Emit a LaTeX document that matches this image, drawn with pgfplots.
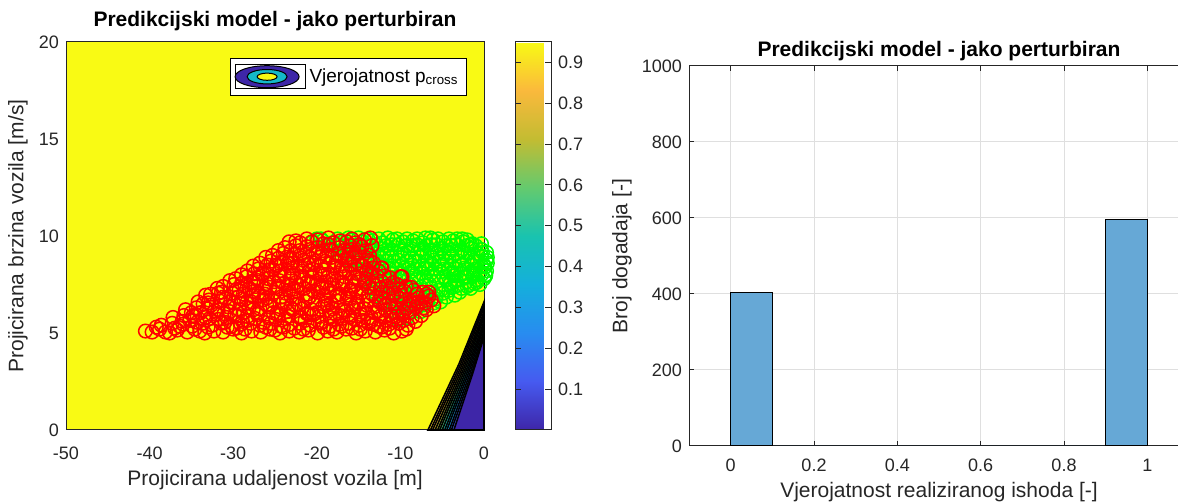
\documentclass[border=0pt]{standalone}
\usepackage{fontspec}
\setmainfont{Liberation Sans}
\usepackage{pgfplots}
\pgfplotsset{compat=1.18}

\definecolor{axgray}{RGB}{38,38,38}
\definecolor{pyellow}{RGB}{249,250,20}
\definecolor{pblue}{RGB}{62,38,168}
\definecolor{pcyan}{RGB}{20,185,200}
\definecolor{barblue}{RGB}{102,168,214}
\definecolor{gridgray}{RGB}{223,223,223}
\definecolor{mgreen}{RGB}{0,255,0}
\definecolor{mred}{RGB}{255,0,0}

\pgfplotsset{
  colormap={parula}{rgb255(0cm)=(62,38,168) rgb255(1cm)=(70,90,240)
    rgb255(2cm)=(40,140,240) rgb255(3cm)=(20,175,220) rgb255(4cm)=(25,195,175)
    rgb255(5cm)=(100,202,110) rgb255(6cm)=(195,188,50) rgb255(7cm)=(250,185,60)
    rgb255(8cm)=(249,250,20)},
  mlab/.style={
    scale only axis,
    axis line style={axgray, line width=0.5pt},
    tick style={axgray, line width=0.5pt},
    ticklabel style={font=\fontsize{9}{10}\selectfont, text=axgray},
    label style={font=\fontsize{10.5}{12}\selectfont, text=axgray},
    title style={font=\bfseries\fontsize{10.5}{12}\selectfont, yshift=-6.5pt},
    /pgf/number format/assume math mode=true,
    /pgf/number format/1000 sep={},
    major tick length=2.5pt,
  },
  cont/.style={draw=black, line width=0.8pt, forget plot},
  dots/.style={only marks, mark=o, mark size=3.4pt, mark options={line width=0.75pt}, forget plot},
}

\begin{document}
\begin{tikzpicture}

% ---------------- left: contour + scatter ----------------
\begin{axis}[mlab,
  at={(33pt,36pt)}, anchor=south west,
  width=209pt, height=194pt,
  xmin=-50, xmax=0, ymin=0, ymax=20,
  xtick={-50,-40,-30,-20,-10,0}, ytick={0,5,10,15,20},
  major tick length=0pt,
  xticklabel style={yshift=-5pt},
  axis background/.style={fill=pyellow},
  clip=false,
  title={Predikcijski model - jako perturbiran},
  title style={at={(0.5,1.057)}, anchor=center},
  xlabel={Projicirana udaljenost vozila [m]},
  ylabel={Projicirana brzina vozila [m/s]},
  xlabel style={at={(axis description cs:0.5,-0.129)}, anchor=center},
  ylabel style={at={(axis description cs:-0.115,0.5)}, anchor=center},
  colorbar, colormap name=parula,
  point meta min=0, point meta max=0.95,
  colorbar style={
    at={(parent axis.north east)}, anchor=north west, xshift=7pt,
    scale only axis, width=18pt, height=194pt,
    axis line style={axgray, line width=0.5pt},
    ytick={0.1,0.2,0.3,0.4,0.5,0.6,0.7,0.8,0.9},
    yticklabel style={font=\fontsize{9}{10}\selectfont, text=axgray},
    /pgf/number format/assume math mode=true,
    tick align=inside, major tick length=3pt,
    tick style={axgray, line width=0.5pt},
  },
  legend style={at={(0.959,0.959)}, anchor=north east, draw=black, fill=white,
    font=\fontsize{9.5}{11}\selectfont, legend cell align=left,
    inner xsep=2pt, inner ysep=3pt},
]

% filled contour bands (level lines, lower-right corner)
\addplot[cont, fill={rgb,255:red,250;green,215;blue,45}]  coordinates {(-6.7,0) (-3.0,3.4) (0,6.6) (0,0)} -- cycle;
\addplot[cont, fill={rgb,255:red,252;green,190;blue,60}]  coordinates {(-6.4,0) (-2.85,3.35) (0,6.45) (0,0)} -- cycle;
\addplot[cont, fill={rgb,255:red,225;green,186;blue,45}]  coordinates {(-6.15,0) (-2.7,3.3) (0,6.3) (0,0)} -- cycle;
\addplot[cont, fill={rgb,255:red,185;green,190;blue,55}]  coordinates {(-5.85,0) (-2.55,3.25) (0,6.1) (0,0)} -- cycle;
\addplot[cont, fill={rgb,255:red,135;green,198;blue,85}]  coordinates {(-5.55,0) (-2.4,3.2) (0,5.95) (0,0)} -- cycle;
\addplot[cont, fill={rgb,255:red,80;green,200;blue,120}]  coordinates {(-5.3,0) (-2.25,3.15) (0,5.8) (0,0)} -- cycle;
\addplot[cont, fill={rgb,255:red,30;green,192;blue,170}]  coordinates {(-5.0,0) (-2.1,3.1) (0,5.6) (0,0)} -- cycle;
\addplot[cont, fill={rgb,255:red,15;green,178;blue,205}]  coordinates {(-4.7,0) (-1.95,3.05) (0,5.45) (0,0)} -- cycle;
\addplot[cont, fill={rgb,255:red,28;green,155;blue,228}]  coordinates {(-4.45,0) (-1.8,3.0) (0,5.3) (0,0)} -- cycle;
\addplot[cont, fill={rgb,255:red,45;green,125;blue,242}]  coordinates {(-4.15,0) (-1.65,2.95) (0,5.1) (0,0)} -- cycle;
\addplot[cont, fill={rgb,255:red,65;green,90;blue,235}]   coordinates {(-3.9,0) (-1.5,2.9) (0,4.95) (0,0)} -- cycle;
\addplot[cont, fill=pblue]                                coordinates {(-3.6,0) (-1.4,2.85) (0,4.8) (0,0)} -- cycle;

% green: crossing cases
\addplot[dots, color=mgreen] coordinates {
(-10.2,5.7) (-9.2,5.8)
(-11.0,6.1) (-9.8,6.05) (-8.6,6.15) (-7.6,6.1)
(-12.0,6.5) (-10.8,6.45) (-9.6,6.55) (-8.4,6.5) (-7.2,6.45) (-6.0,6.55) (-5.2,6.6)
(-12.9,6.9) (-11.7,6.85) (-10.5,6.95) (-9.3,6.9) (-8.1,6.85) (-6.9,6.95) (-5.7,6.9) (-4.5,6.85) (-3.5,6.95)
(-13.5,7.3) (-12.3,7.25) (-11.1,7.35) (-9.9,7.3) (-8.7,7.25) (-7.5,7.35) (-6.3,7.3) (-5.1,7.25) (-3.9,7.35) (-2.7,7.3) (-1.6,7.3)
(-14.1,7.7) (-12.9,7.65) (-11.7,7.75) (-10.5,7.7) (-9.3,7.65) (-8.1,7.75) (-6.9,7.7) (-5.7,7.65) (-4.5,7.75) (-3.3,7.7) (-2.1,7.65) (-0.9,7.75) (0.0,7.8)
(-14.8,8.1) (-13.6,8.05) (-12.4,8.15) (-11.2,8.1) (-10.0,8.05) (-8.8,8.15) (-7.6,8.1) (-6.4,8.05) (-5.2,8.15) (-4.0,8.1) (-2.8,8.05) (-1.6,8.15) (-0.5,8.1) (0.3,8.2)
(-15.8,8.5) (-14.6,8.45) (-13.4,8.55) (-12.2,8.5) (-11.0,8.45) (-9.8,8.55) (-8.6,8.5) (-7.4,8.45) (-6.2,8.55) (-5.0,8.5) (-3.8,8.45) (-2.6,8.55) (-1.4,8.5) (-0.3,8.45) (0.4,8.6)
(-17.0,8.9) (-15.8,8.85) (-14.6,8.95) (-13.4,8.9) (-12.2,8.85) (-11.0,8.95) (-9.8,8.9) (-8.6,8.85) (-7.4,8.95) (-6.2,8.9) (-5.0,8.85) (-3.8,8.95) (-2.6,8.9) (-1.4,8.85) (-0.3,8.95) (0.4,8.9)
(-18.3,9.3) (-17.1,9.25) (-15.9,9.35) (-14.7,9.3) (-13.5,9.25) (-12.3,9.35) (-11.1,9.3) (-9.9,9.25) (-8.7,9.35) (-7.5,9.3) (-6.3,9.25) (-5.1,9.35) (-3.9,9.3) (-2.7,9.25) (-1.5,9.35) (-0.3,9.3)
(-20.5,9.7) (-19.3,9.75) (-18.1,9.65) (-16.9,9.7) (-15.7,9.8) (-14.5,9.7) (-13.3,9.75) (-12.1,9.65) (-10.9,9.8) (-9.7,9.7) (-8.5,9.75) (-7.3,9.65) (-6.1,9.8) (-4.9,9.7) (-3.7,9.75) (-2.5,9.7) (-1.4,9.6)
(-8.0,6.3) (-5.8,6.75) (-2.9,7.1) (-0.5,7.5) (-11.3,7.5) (-8.9,7.5) (-6.5,7.5) (-4.1,7.5) (-1.7,7.5)
(-12.0,7.9) (-9.6,7.9) (-7.2,7.9) (-4.8,7.9) (-2.4,7.9) (0.2,7.95)
(-13.0,8.3) (-10.6,8.3) (-8.2,8.3) (-5.8,8.3) (-3.4,8.3) (-1.0,8.3)
(-14.0,8.7) (-11.6,8.7) (-9.2,8.7) (-6.8,8.7) (-4.4,8.7) (-2.0,8.7) (0.3,8.75)
(-15.2,9.1) (-12.8,9.1) (-10.4,9.1) (-8.0,9.1) (-5.6,9.1) (-3.2,9.1) (-0.8,9.1)
(-16.5,9.5) (-14.1,9.5) (-11.7,9.5) (-9.3,9.5) (-6.9,9.5) (-4.5,9.5) (-2.1,9.5) (-0.3,9.6)
(-17.5,9.85) (-11.5,9.9) (-5.5,9.85)
(-9.4,6.3) (-6.7,6.7) (-4.9,7.05) (-3.2,7.45) (-1.2,7.55) (0.2,8.0)
(-13.0,7.1) (-10.9,7.1) (-8.4,7.05) (-6.1,7.1) (-4.0,7.6) (-2.2,7.85) (-0.3,8.0)
(-13.6,8.35) (-11.4,8.35) (-9.0,8.35) (-6.6,8.3) (-4.3,8.3) (-2.0,8.3) (0.1,8.4)
(-15.0,8.75) (-12.7,8.7) (-10.2,8.75) (-7.8,8.7) (-5.4,8.7) (-3.0,8.7) (-0.8,8.7)
(-16.4,9.15) (-13.9,9.15) (-11.6,9.1) (-9.1,9.15) (-6.8,9.1) (-4.2,9.15) (-1.9,9.1) (0.3,9.15)
(-19.0,9.5) (-17.4,9.55) (-15.0,9.55) (-12.9,9.55) (-10.3,9.55) (-8.0,9.55) (-5.7,9.55) (-3.3,9.55) (-1.0,9.5)
(-20.0,9.85) (-16.2,9.9) (-13.9,9.85) (-9.2,9.85) (-7.0,9.9) (-3.2,9.85) (-2.0,9.8)
(-9.8,6.4) (-7.1,6.85) (-4.2,7.2) (-2.0,7.4) (-0.9,7.6)
(-12.3,7.05) (-10.1,7.2) (-7.9,7.2) (-5.5,7.2) (-3.5,7.65) (-1.3,7.95)
(-13.9,7.9) (-11.0,7.85) (-8.4,7.95) (-6.0,7.95) (-3.6,7.95) (-1.1,8.05)
(-14.2,8.3) (-12.0,8.3) (-9.5,8.35) (-7.0,8.35) (-4.7,8.3) (-2.3,8.35) (0.0,8.5)
(-16.2,8.7) (-13.2,8.75) (-10.8,8.7) (-8.3,8.7) (-6.0,8.75) (-3.6,8.7) (-1.2,8.75)
(-17.4,9.1) (-14.3,9.15) (-12.0,9.1) (-9.6,9.1) (-7.2,9.15) (-4.8,9.1) (-2.3,9.15) (-0.2,9.15)
(-18.6,9.55) (-16.0,9.55) (-13.5,9.5) (-11.0,9.55) (-8.6,9.5) (-6.3,9.55) (-3.9,9.5) (-1.6,9.55)
(-19.5,9.85) (-15.0,9.9) (-12.6,9.85) (-10.4,9.85) (-8.0,9.85) (-6.4,9.9) (-4.2,9.85) (-2.6,9.85)
};

% red: non-crossing cases
\addplot[dots, color=mred] coordinates {
(-40.5,5.1) (-39.7,5.05) (-38.8,5.2) (-37.6,5.0) (-36.7,5.15) (-35.5,5.05) (-34.6,5.2) (-33.4,5.0) (-32.3,5.1) (-31.2,5.05) (-30.0,5.2) (-29.0,5.0) (-27.8,5.1) (-26.7,5.05) (-25.6,5.2) (-24.4,5.0) (-23.3,5.1) (-22.1,5.05) (-21.0,5.15) (-19.9,5.0) (-18.7,5.1) (-17.6,5.05) (-16.5,5.2) (-15.3,5.0) (-14.2,5.1) (-13.0,5.05) (-11.9,5.15) (-10.8,5.0) (-9.8,5.1)
(-38.6,5.4) (-37.3,5.5) (-36.0,5.45) (-34.9,5.35) (-33.7,5.5) (-32.5,5.4) (-31.4,5.5) (-30.2,5.35) (-29.1,5.45) (-27.9,5.5) (-26.8,5.4) (-25.5,5.5) (-24.3,5.35) (-23.2,5.45) (-22.0,5.5) (-20.8,5.4) (-19.6,5.5) (-18.4,5.35) (-17.3,5.45) (-16.1,5.5) (-14.9,5.4) (-13.8,5.5) (-12.6,5.35) (-11.4,5.45) (-10.2,5.5) (-9.1,5.4)
(-37.2,5.8) (-35.9,5.9) (-34.6,5.85) (-33.3,5.8) (-32.0,5.95) (-30.8,5.8) (-29.5,5.9) (-28.3,5.85) (-27.1,5.95) (-25.8,5.8) (-24.6,5.9) (-23.4,5.85) (-22.1,5.8) (-20.9,5.95) (-19.7,5.85) (-18.4,5.8) (-17.2,5.9) (-16.0,5.85) (-14.7,5.95) (-13.5,5.8) (-12.3,5.9) (-11.0,5.85) (-9.8,5.95) (-8.6,5.8) (-7.5,5.9)
(-35.7,6.2) (-34.4,6.3) (-33.1,6.25) (-31.8,6.2) (-30.6,6.35) (-29.3,6.2) (-28.1,6.3) (-26.8,6.25) (-25.6,6.35) (-24.3,6.2) (-23.1,6.3) (-21.8,6.25) (-20.6,6.2) (-19.3,6.35) (-18.1,6.25) (-16.8,6.2) (-15.6,6.3) (-14.3,6.25) (-13.1,6.35) (-11.8,6.2) (-10.6,6.3) (-9.3,6.25) (-8.1,6.35) (-6.9,6.2) (-6.0,6.4)
(-34.2,6.6) (-32.9,6.7) (-31.6,6.65) (-30.3,6.6) (-29.0,6.75) (-27.8,6.6) (-26.5,6.7) (-25.2,6.65) (-24.0,6.6) (-22.7,6.75) (-21.4,6.65) (-20.2,6.6) (-18.9,6.7) (-17.6,6.65) (-16.4,6.75) (-15.1,6.6) (-13.8,6.7) (-12.6,6.65) (-11.3,6.6) (-10.0,6.75) (-8.8,6.65) (-7.5,6.6) (-6.3,6.7)
(-32.7,7.0) (-31.4,7.1) (-30.1,7.05) (-28.8,7.0) (-27.5,7.15) (-26.2,7.0) (-25.0,7.1) (-23.7,7.05) (-22.4,7.15) (-21.1,7.0) (-19.8,7.1) (-18.5,7.05) (-17.2,7.0) (-16.0,7.15) (-14.7,7.05) (-13.4,7.0) (-12.1,7.1) (-10.8,7.05) (-9.5,7.15) (-8.0,7.0) (-6.6,7.1)
(-31.2,7.4) (-29.9,7.5) (-28.6,7.45) (-27.3,7.4) (-26.0,7.55) (-24.7,7.4) (-23.4,7.5) (-22.1,7.45) (-20.8,7.55) (-19.5,7.4) (-18.2,7.5) (-16.9,7.45) (-15.6,7.4) (-14.3,7.55) (-13.0,7.45) (-11.7,7.4) (-10.4,7.5) (-9.3,7.4)
(-29.7,7.8) (-28.4,7.9) (-27.1,7.85) (-25.8,7.8) (-24.5,7.95) (-23.2,7.8) (-21.9,7.9) (-20.6,7.85) (-19.3,7.95) (-18.0,7.8) (-16.7,7.9) (-15.4,7.85) (-14.1,7.8) (-12.8,7.95) (-11.3,7.85)
(-28.3,8.2) (-27.0,8.3) (-25.7,8.25) (-24.4,8.2) (-23.1,8.35) (-21.8,8.2) (-20.5,8.3) (-19.2,8.25) (-17.9,8.35) (-16.6,8.2) (-15.3,8.3) (-14.0,8.25) (-12.6,8.2)
(-26.8,8.6) (-25.5,8.7) (-24.2,8.65) (-22.9,8.6) (-21.6,8.75) (-20.3,8.6) (-19.0,8.7) (-17.7,8.65) (-16.4,8.75) (-15.1,8.6) (-13.6,8.7)
(-25.3,9.0) (-24.0,9.1) (-22.7,9.05) (-21.4,9.0) (-20.1,9.15) (-18.8,9.0) (-17.5,9.1) (-16.2,9.05) (-14.9,9.15) (-13.7,9.0)
(-23.8,9.4) (-22.5,9.5) (-21.2,9.45) (-19.9,9.4) (-18.6,9.55) (-17.3,9.4) (-16.0,9.5) (-14.6,9.45)
(-22.5,9.75) (-21.2,9.85) (-19.9,9.8) (-18.6,9.9) (-17.2,9.75) (-15.8,9.85) (-14.3,9.8) (-13.6,9.9)
(-37.0,5.25) (-33.0,5.3) (-29.6,5.25) (-26.1,5.3) (-22.7,5.25) (-19.2,5.3) (-15.8,5.25) (-12.3,5.3)
(-35.2,5.65) (-31.8,5.7) (-28.3,5.65) (-24.9,5.7) (-21.4,5.65) (-17.9,5.7) (-14.4,5.65) (-10.9,5.7) (-8.2,5.6)
(-33.9,6.05) (-30.4,6.1) (-27.0,6.05) (-23.5,6.1) (-20.0,6.05) (-16.6,6.1) (-13.1,6.05) (-9.6,6.1)
(-32.6,6.45) (-29.1,6.5) (-25.7,6.45) (-22.2,6.5) (-18.7,6.45) (-15.3,6.5) (-11.8,6.45) (-8.4,6.5)
(-31.2,6.85) (-27.7,6.9) (-24.3,6.85) (-20.8,6.9) (-17.4,6.85) (-13.9,6.9) (-10.4,6.85)
(-29.6,7.25) (-26.2,7.3) (-22.8,7.25) (-19.3,7.3) (-15.9,7.25) (-12.4,7.3)
(-27.9,7.65) (-24.5,7.7) (-21.1,7.65) (-17.6,7.7) (-14.2,7.65)
(-26.4,8.05) (-23.0,8.1) (-19.6,8.05) (-16.1,8.1) (-12.3,8.35) (-9.8,7.9)
(-24.8,8.45) (-21.4,8.5) (-17.9,8.45) (-14.6,8.5)
(-23.2,8.85) (-19.7,8.9) (-16.3,8.85)
(-39.2,5.3) (-38.1,5.05) (-36.1,5.6) (-34.0,5.1) (-32.8,5.75) (-31.0,5.55) (-28.6,5.2) (-27.4,5.75) (-25.0,5.15) (-23.8,5.75) (-21.6,5.2) (-20.3,5.6) (-18.0,5.2) (-16.9,5.75) (-14.8,5.2) (-13.5,5.6) (-11.3,5.25) (-10.5,5.85) (-9.3,5.2)
(-35.0,6.05) (-33.6,6.5) (-31.1,6.0) (-29.9,6.55) (-28.7,6.05) (-26.0,6.45) (-24.8,6.0) (-22.6,6.45) (-21.2,6.0) (-19.0,6.55) (-17.8,6.0) (-15.9,6.45) (-14.0,6.0) (-12.4,6.55) (-10.2,6.05) (-8.9,6.45) (-7.2,6.3) (-6.6,6.9)
(-33.3,6.95) (-31.9,7.3) (-29.4,6.85) (-28.1,7.3) (-26.9,6.9) (-24.6,7.3) (-23.1,6.9) (-21.5,7.3) (-19.1,6.9) (-17.9,7.3) (-16.3,6.95) (-14.6,7.3) (-12.9,6.85) (-11.2,7.3) (-9.9,6.95) (-7.3,7.1)
(-30.4,7.7) (-29.0,8.0) (-27.6,7.6) (-26.5,8.1) (-25.1,7.65) (-23.9,8.05) (-22.5,7.6) (-20.2,8.1) (-18.9,7.65) (-17.2,8.1) (-15.8,7.65) (-13.5,8.1) (-12.2,7.65) (-10.9,7.6)
(-27.6,8.45) (-26.1,8.9) (-24.9,8.5) (-23.6,8.9) (-22.3,8.45) (-20.9,8.9) (-19.5,8.45) (-18.2,8.9) (-17.0,8.45) (-15.7,8.9) (-14.4,8.45) (-13.2,8.6)
(-24.6,9.25) (-23.3,9.7) (-22.0,9.25) (-20.6,9.7) (-19.3,9.25) (-18.0,9.65) (-16.7,9.25) (-15.4,9.65) (-14.1,9.25) (-13.4,9.5)
(-8.7,7.35) (-7.9,6.8) (-12.2,8.35) (-10.0,7.9) (-6.9,7.0)
(-36.4,5.35) (-34.3,5.55) (-30.7,5.3) (-28.9,5.6) (-26.4,5.55) (-24.0,5.3) (-21.9,5.8) (-19.4,5.55) (-17.0,5.35) (-15.5,5.7) (-13.2,5.45) (-11.8,5.65) (-9.6,5.65)
(-34.8,5.9) (-32.2,6.15) (-29.8,5.95) (-27.6,6.2) (-25.2,6.05) (-22.9,6.2) (-20.4,5.95) (-18.5,6.15) (-16.2,5.95) (-14.9,6.2) (-12.7,6.1) (-11.2,5.95) (-8.9,6.05) (-7.8,6.6)
(-33.0,6.55) (-30.9,6.8) (-28.4,6.55) (-26.0,6.8) (-23.6,6.55) (-21.0,6.8) (-18.3,6.55) (-16.0,6.8) (-14.1,6.45) (-12.0,6.8) (-9.6,6.5) (-7.0,6.55)
(-31.8,7.05) (-29.3,7.2) (-27.0,7.05) (-25.6,7.35) (-23.3,7.2) (-20.4,7.15) (-18.8,7.35) (-17.6,6.95) (-15.3,7.15) (-13.8,7.35) (-11.4,7.05) (-10.1,7.25) (-8.4,7.2)
(-29.0,7.55) (-27.0,7.7) (-24.0,7.55) (-21.6,7.75) (-19.9,7.55) (-17.0,7.6) (-15.0,7.75) (-13.3,7.55) (-11.9,7.95)
(-27.5,8.05) (-25.2,8.25) (-22.8,8.0) (-20.9,8.2) (-18.5,8.0) (-16.9,8.3) (-14.8,8.05) (-13.3,8.35)
(-25.9,8.5) (-23.5,8.6) (-21.0,8.55) (-18.6,8.55) (-16.0,8.55) (-14.0,8.75)
(-24.6,8.85) (-22.0,9.0) (-19.4,9.1) (-17.0,8.95) (-15.4,9.1)
(-23.1,9.25) (-20.8,9.3) (-18.3,9.3) (-15.8,9.3)
(-22.0,9.65) (-19.2,9.6) (-16.4,9.7) (-14.9,9.55)
};

\addlegendimage{legend image code/.code={
  \path (0pt,-6pt) rectangle (35pt,6pt);
  \filldraw[fill=pblue, draw=black, line width=0.5pt] (16pt,0pt) ellipse (16pt and 5.5pt);
  \filldraw[fill=pcyan, draw=black, line width=0.5pt] (16pt,0pt) ellipse (10pt and 3.6pt);
  \filldraw[fill=pyellow, draw=black, line width=0.5pt] (16pt,0pt) ellipse (5pt and 1.8pt);
}}
\addlegendentry{Vjerojatnost p\textsubscript{cross}}
\end{axis}

% ---------------- right: histogram ----------------
\begin{axis}[mlab,
  at={(344.5pt,28pt)}, anchor=south west,
  width=250pt, height=190pt,
  xmin=-0.1, xmax=1.1, ymin=0, ymax=1000,
  xtick={0,0.2,0.4,0.6,0.8,1}, ytick={0,200,400,600,800,1000},
  xticklabel style={yshift=-3pt},
  grid=major, grid style={gridgray, line width=0.5pt},
  title={Predikcijski model - jako perturbiran},
  title style={at={(0.5,1.042)}, anchor=center},
  xlabel={Vjerojatnost realiziranog ishoda [-]},
  ylabel={Broj dogadaja [-]},
  xlabel style={at={(axis description cs:0.5,-0.121)}, anchor=center},
  ylabel style={at={(axis description cs:-0.134,0.5)}, anchor=center},
]
\addplot[ybar interval, fill=barblue, draw=black, line width=0.5pt] coordinates {
  (0,405) (0.1,0) (0.2,0) (0.3,0) (0.4,0) (0.5,0) (0.6,0) (0.7,0) (0.8,0) (0.9,595) (1.0,595)
};
\end{axis}

\pgfresetboundingbox
\path[use as bounding box] (0,0) rectangle (589pt,251pt);
\end{tikzpicture}
\end{document}
